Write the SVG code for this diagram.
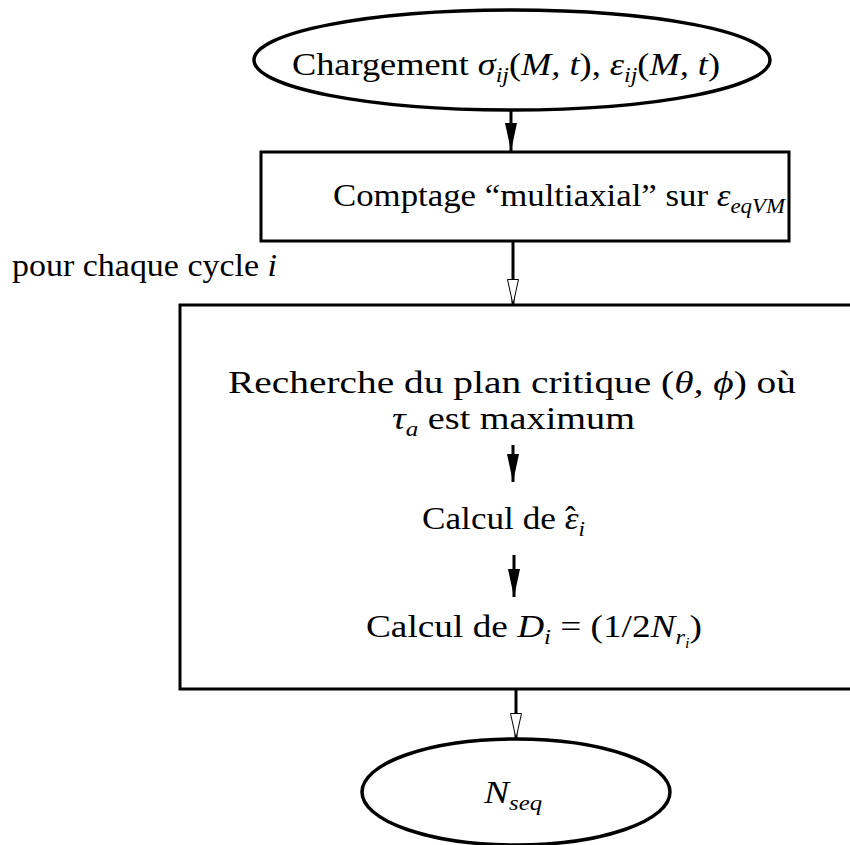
<svg xmlns="http://www.w3.org/2000/svg" width="850" height="845" viewBox="0 0 850 845">
<style>
.t{font-family:"Liberation Serif","Times New Roman",serif;font-size:32px;fill:#000}
.m{font-style:italic}
.s{font-size:21px;font-style:italic}
.shape{fill:#fff;stroke:#000;stroke-width:3.5}
.box{fill:#fff;stroke:#000;stroke-width:3}
.conn{stroke:#000;stroke-width:3;fill:none}
</style>
<defs>
<marker id="filled" markerUnits="userSpaceOnUse" markerWidth="28" markerHeight="12" refX="28" refY="6" orient="auto">
<path d="M0,0 L28,6 L0,12 z" fill="#000"/>
</marker>
<marker id="open" markerUnits="userSpaceOnUse" markerWidth="26" markerHeight="12" refX="26" refY="6" orient="auto">
<path d="M0.5,0.5 L25.5,6 L0.5,11.5 z" fill="#fff" stroke="#000" stroke-width="1"/>
</marker>
</defs>

<g id="connectors">
<line class="conn" x1="511" y1="110" x2="511" y2="151" marker-end="url(#filled)"/>
<line class="conn" x1="513" y1="241" x2="513" y2="305" marker-end="url(#open)"/>
<line class="conn" x1="516" y1="689" x2="516" y2="739" marker-end="url(#open)"/>
</g>

<g id="n1">
<ellipse class="shape" cx="512" cy="60" rx="258" ry="50"/>
<text class="t" x="292" y="75" textLength="428" lengthAdjust="spacingAndGlyphs">Chargement <tspan class="m">σ</tspan><tspan class="s" dy="7">ij</tspan><tspan dy="-7">(</tspan><tspan class="m">M, t</tspan>), <tspan class="m">ε</tspan><tspan class="s" dy="7">ij</tspan><tspan dy="-7">(</tspan><tspan class="m">M, t</tspan>)</text>
</g>

<g id="n2">
<rect class="box" x="261" y="152" width="528" height="89"/>
<text class="t" x="333" y="206" textLength="452" lengthAdjust="spacingAndGlyphs">Comptage “multiaxial” sur <tspan class="m">ε</tspan><tspan class="s" dy="7">eqVM</tspan></text>
</g>

<g id="label">
<text class="t" x="12" y="276" textLength="265" lengthAdjust="spacingAndGlyphs">pour chaque cycle <tspan class="m">i</tspan></text>
</g>

<g id="n3">
<rect class="box" x="180" y="305" width="700" height="384"/>
<text class="t" x="228" y="393" textLength="568" lengthAdjust="spacingAndGlyphs">Recherche du plan critique (<tspan class="m">θ, ϕ</tspan>) où</text>
<text class="t" x="392" y="429" textLength="243" lengthAdjust="spacingAndGlyphs"><tspan class="m">τ</tspan><tspan class="s" dy="7">a</tspan><tspan dy="-7"> est maximum</tspan></text>
<line class="conn" x1="513" y1="445" x2="513" y2="482" marker-end="url(#filled)"/>
<text class="t" x="422" y="529" textLength="163" lengthAdjust="spacingAndGlyphs">Calcul de <tspan class="m">ε</tspan><tspan class="s" dy="7">i</tspan></text>
<text class="t" x="565" y="528">ˆ</text>
<line class="conn" x1="514" y1="555" x2="514" y2="597" marker-end="url(#filled)"/>
<text class="t" x="366" y="637" textLength="336" lengthAdjust="spacingAndGlyphs">Calcul de <tspan class="m">D</tspan><tspan class="s" dy="7">i</tspan><tspan dy="-7"> = (1/2</tspan><tspan class="m">N</tspan><tspan class="s" dy="7">r<tspan font-size="14" dy="4">i</tspan></tspan><tspan dy="-11">)</tspan></text>
</g>

<g id="n4">
<ellipse class="shape" cx="516" cy="792" rx="154" ry="53"/>
<text class="t" x="484" y="803" textLength="58" lengthAdjust="spacingAndGlyphs"><tspan class="m">N</tspan><tspan class="s" dy="7">seq</tspan></text>
</g>
</svg>
